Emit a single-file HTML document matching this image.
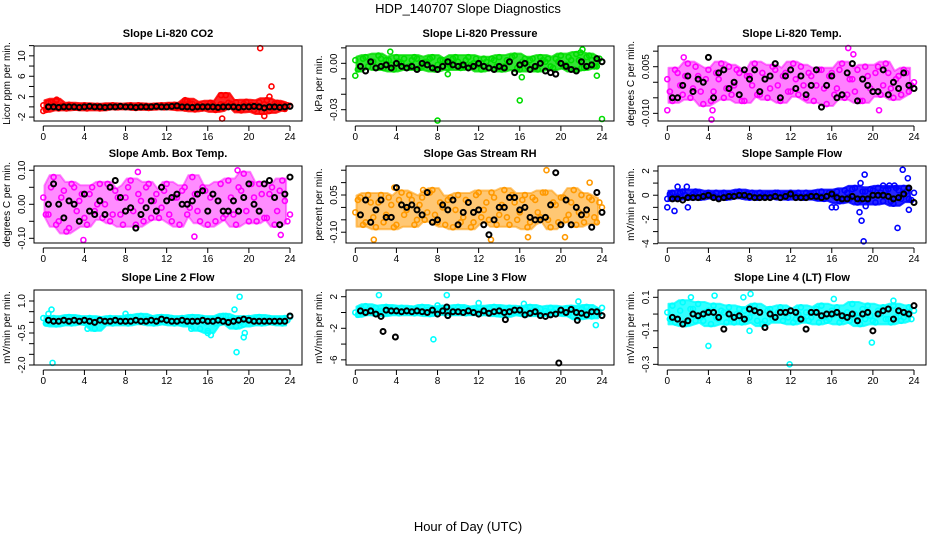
<!DOCTYPE html>
<html><head><meta charset="utf-8"><style>
body{margin:0;background:#fff;}
svg text{font-family:"Liberation Sans",sans-serif;fill:#000;}
</style></head><body>
<svg id="chart" width="936" height="540" viewBox="0 0 936 540" xmlns="http://www.w3.org/2000/svg">
<text x="468" y="13" font-size="13" text-anchor="middle">HDP_140707  Slope Diagnostics</text>
<text x="468" y="531" font-size="13" text-anchor="middle">Hour of Day (UTC)</text>
</svg>
<script>
const xTicks=[0,4,8,12,16,20,24];
const p1ColA=[0.3,0.8,0.5,-0.3,0.2,0.4,0,-0.2,0.3,0.1,0,-0.3,0.2,0.1,-0.1,0.2,0,0.3,-0.2,0.1,0.2,0,-0.1,0.3,0.1,0.2,-0.2,0.4,1.2,0.6,0.3,-0.3,0.2,0.5,-0.4,0.4,0.8,0.3,-0.5,0.6,0.2,-0.6,0.9,0.5,-0.8,0.6,0.3,-0.4,0.2];
const p1ColB=[-0.6,0.9,1.2,0.2,-0.3,0.3,-0.1,0.2,-0.3,0.1,0.2,-0.2,0.1,0.3,-0.1,0,0.2,-0.1,0.3,0,-0.2,0.2,0.1,-0.1,0.3,0.4,0.1,-0.3,0.7,-0.5,0.4,0.2,0.8,-0.6,0.5,2.3,0.6,0.9,-0.7,1.0,0.4,0.3,-1.0,1.3,-0.2,0.8,0.5,0.3];
const p1Black=[0,0,-0.1,0,0,0,-0.1,0,0.1,0,0,-0.1,0,0,0.1,0,0,-0.1,0,0,0,0.1,0,0,0.1,0.2,0,0,-0.1,0,0,0,0,-0.1,0,0,0,-0.1,0,0,0.1,0,-0.2,0,0,-0.1,0,0.1];
const p1OutX=[21.1,22.2,17.3,17.4,22.0,21.5,13.8,1.3,0.0];
const p1OutY=[11.5,4,2.3,-2.3,2,-1.8,1.3,1.4,-0.8];
const p1Ticks=[-2,0,2,4,6,8,10,12];const p1Labels=["-2","2","6","10"];

const p2ColA=[0.002,-0.002,0.004,0.001,-0.003,0.003,0.002,-0.001,0.004,0,-0.003,0.002,0.003,-0.002,0.001,0.004,-0.001,0.002,-0.003,0.003,0.001,-0.002,0.004,0,-0.001,0.003,-0.003,0.002,0.004,-0.002,0.001,0.005,-0.004,0.003,0.002,-0.003,0.004,0.001,-0.002,0.003,0.005,-0.001,0.002,0.006,-0.003,0.004,0.002,-0.002,0.001];
const p2ColB=[-0.004,0.003,-0.002,0.001,0.005,-0.003,0.002,-0.004,0.001,0.003,-0.002,0.004,-0.003,0.001,0.003,-0.004,0.002,0.001,-0.002,0.004,-0.003,0.002,-0.001,0.003,-0.004,0.001,0.003,-0.002,-0.004,0.002,0.004,-0.003,0.001,-0.002,0.003,-0.004,0.002,0.003,-0.003,0.001,-0.002,0.004,-0.004,0.002,-0.003,0.005,-0.002,0.003];
const p2Black=[-0.002,-0.005,0.001,-0.003,-0.002,-0.001,-0.003,0.000,-0.002,-0.003,-0.002,-0.004,0.000,-0.001,-0.003,-0.004,-0.002,0.001,-0.001,-0.002,-0.001,-0.003,-0.002,0.000,-0.002,-0.003,-0.004,-0.002,-0.003,0.001,-0.006,-0.001,0.000,-0.004,-0.002,0.000,-0.005,-0.006,-0.007,0.000,-0.002,-0.004,-0.005,0.001,-0.002,-0.001,0.003,0.001];
const p2OutX=[0,8,16,24,3.4,22.1,23.5,16.2,9,21.9];
const p2OutY=[-0.008,-0.037,-0.024,-0.036,0.0075,0.009,-0.008,-0.009,-0.007,0.007];
const p2Ticks=[0.01,0,-0.01,-0.02,-0.03];const p2Labels=["0.00","-0.03"];

const p3ColA=[0.001,-0.006,0.003,-0.004,0.006,-0.002,0.002,-0.007,0.004,-0.003,0.001,-0.005,0.005,-0.001,0.003,-0.006,0.002,0.006,-0.004,0.001,-0.002,0.004,-0.006,0.003,-0.003,0.001,0.005,-0.005,0.002,-0.001,0.004,-0.007,0.003,-0.002,0.006,-0.004,0.001,0.004,-0.006,0.002,-0.003,0.005,-0.001,0.003,-0.005,0.002,0.004,-0.003,0.000];
const p3ColB=[-0.003,0.004,-0.001,0.002,-0.005,0.005,-0.003,0.001,-0.006,0.003,0.006,-0.002,-0.004,0.004,-0.006,0.002,-0.001,-0.004,0.003,-0.005,0.005,-0.001,0.002,-0.003,0.006,-0.004,-0.001,0.003,-0.006,0.004,-0.002,0.002,-0.004,0.004,-0.005,0.001,-0.003,-0.006,0.005,-0.002,0.003,-0.004,0.006,-0.002,0.001,-0.004,0.003,-0.001];
const p3Black=[-0.005,-0.005,-0.001,0.002,-0.003,0.001,0.000,0.008,-0.005,0.003,0.004,-0.002,0.000,-0.004,0.004,0.001,0.004,-0.003,0.001,0.002,0.006,-0.005,0.002,0.004,-0.002,0.002,-0.004,-0.001,0.004,-0.008,-0.001,0.002,-0.005,-0.004,0.003,0.006,-0.006,0.001,-0.001,-0.003,-0.003,0.004,-0.004,0.000,-0.002,0.003,-0.001,-0.002];
const p3OutX=[4.3,17.6,0,4.4,20.6,1.6,18.1];
const p3OutY=[-0.012,0.011,-0.009,-0.009,-0.009,0.008,0.009];
const p3Ticks=[0.01,0.005,0,-0.005,-0.01];const p3Labels=["0.005","-0.010"];

const p4ColA=[0.02,-0.03,0.08,-0.05,0.04,-0.07,0.05,0.01,-0.04,0.03,-0.02,0.06,0.00,-0.05,0.04,-0.03,0.02,0.07,-0.06,0.01,0.05,-0.04,0.03,-0.01,0.06,-0.05,0.02,0.04,-0.03,0.08,-0.02,0.05,-0.06,0.03,0.01,-0.04,0.07,-0.03,0.05,0.09,-0.05,0.02,0.06,-0.04,0.03,-0.06,0.04,0.01,-0.03];
const p4ColB=[-0.03,0.05,-0.06,0.02,-0.08,0.06,-0.02,0.03,-0.06,0.05,0.00,-0.04,0.06,-0.03,0.02,-0.06,0.05,-0.02,0.03,-0.05,0.06,0.01,-0.04,0.04,-0.03,0.02,-0.06,0.05,-0.01,0.03,-0.05,0.04,0.02,-0.05,0.06,-0.03,0.02,-0.06,0.04,-0.02,0.06,-0.05,0.03,-0.04,0.05,-0.02,0.07,-0.05];
const p4Black=[0.00,0.06,0.00,-0.04,0.01,0.00,-0.05,0.03,-0.02,-0.03,0.01,-0.03,0.05,0.07,0.02,-0.02,-0.01,-0.07,-0.03,-0.01,0.01,-0.02,0.05,0.01,0.02,0.03,0.00,0.00,0.01,0.03,0.04,-0.02,0.03,0.01,-0.02,-0.02,0.01,-0.02,0.02,0.06,0.00,-0.02,0.06,0.07,0.02,-0.06,0.03,0.08];
const p4OutX=[3.9,9.2,18.9,14.7,23.1];
const p4OutY=[-0.105,0.095,0.1,-0.095,-0.09];
const p4Ticks=[-0.1,-0.05,0,0.05,0.1];const p4Labels=["-0.10","0.00","0.10"];

const p5ColA=[-0.02,0.04,-0.06,0.02,-0.08,0.05,-0.03,0.01,-0.07,0.06,-0.01,0.03,-0.05,0.04,-0.02,0.07,-0.06,0.00,0.03,-0.08,0.05,-0.04,0.02,-0.06,0.06,-0.01,-0.05,0.04,-0.03,0.07,-0.07,0.02,-0.02,0.05,-0.06,0.03,-0.04,0.06,-0.08,0.01,0.04,-0.05,0.02,-0.07,0.05,-0.03,0.03,-0.06,0.00];
const p5ColB=[0.03,-0.07,0.05,-0.04,0.02,-0.06,0.04,-0.08,0.03,-0.03,0.05,-0.07,0.01,-0.05,0.06,-0.03,0.02,-0.07,0.04,-0.01,-0.06,0.03,-0.08,0.05,-0.04,0.02,0.06,-0.07,0.01,-0.04,0.05,-0.05,0.03,-0.08,0.04,-0.02,0.06,-0.05,0.02,-0.06,0.04,-0.03,0.07,-0.02,-0.06,0.04,-0.04,0.02];
const p5Black=[-0.03,0.03,-0.06,-0.01,0.03,-0.04,-0.04,0.08,0.01,0.00,0.01,-0.01,-0.03,0.06,-0.06,-0.05,0.01,-0.01,0.03,-0.07,-0.02,0.02,-0.02,-0.01,-0.07,-0.11,-0.05,0.00,0.00,0.04,0.04,-0.01,0.00,-0.04,-0.05,-0.05,-0.04,0.01,0.14,-0.07,0.03,-0.07,0.00,-0.03,-0.01,-0.08,0.06,-0.02];
const p5OutX=[18.6,13.2,1.8,16.8,22.8,20.4,3.8,6.6];
const p5OutY=[0.15,-0.13,-0.13,-0.12,0.10,-0.12,0.08,0.07];
const p5Ticks=[-0.1,-0.05,0,0.05,0.1,0.15];const p5Labels=["-0.10","0.05"];

const p6ColA=[-0.3,0.2,-0.1,0.3,-0.2,0.1,0.2,-0.1,0.2,0,-0.2,0.2,0.1,-0.1,0.3,0,-0.2,0.1,0.2,-0.1,0.1,0.2,-0.2,0.1,0.2,0,-0.1,0.2,0.1,-0.2,0.3,-0.1,0.1,0.3,-0.4,0.2,0.5,-0.6,0.3,-0.4,0.4,0.6,-0.5,0.5,-0.7,0.4,0.6,-0.3,0.2];
const p6ColB=[0.1,-0.2,0.2,0,-0.1,0.3,-0.2,0.1,-0.1,0.2,0.1,-0.2,0,0.2,-0.1,0.1,0.2,-0.2,0,0.1,-0.1,0.2,0,-0.2,0.1,0.2,-0.2,0,0.2,-0.1,-0.3,0.2,-0.1,-0.5,0.4,-0.3,0.6,-0.4,0.3,0.5,-0.6,0.2,0.4,-0.5,0.6,-0.3,0.3,-0.4];
const p6Black=[-0.3,-0.3,-0.4,-0.2,-0.2,-0.2,-0.1,0.0,-0.2,-0.3,-0.2,-0.1,-0.1,0.0,0.0,-0.1,-0.2,-0.2,-0.2,-0.2,-0.1,-0.2,-0.1,0.1,-0.2,-0.2,-0.2,-0.1,-0.1,-0.2,-0.1,0.1,-0.2,-0.3,-0.3,-0.1,-0.3,-0.3,-0.3,0.0,0.0,0.0,-0.1,-0.3,-0.2,0.1,0.6,-0.6];
const p6OutX=[0,0.7,1,1.9,2,18.8,19.2,18.9,18.7,19.1,22.4,22.9,23.4,23.5,21,21.6,16,16.4,19.3,22.1];
const p6OutY=[-1,-1.3,0.7,0.7,-1,1,1.7,-2.1,-1.4,-3.8,-2.7,2.1,1.4,-1.2,0.8,0.8,-1,-1,-0.9,0.8];
const p6Ticks=[-4,-3,-2,-1,0,1,2];const p6Labels=["-4","-2","0","2"];

const p7ColA=[0.2,0.1,0.2,0.05,0.15,0.25,0.1,0.2,0.0,0.2,-0.3,0.15,0.1,0.2,0.05,0.15,0.2,0.25,0.1,0.3,0.15,0.2,0.1,0.25,0.15,0.2,0.1,0.2,0.15,0.25,0.1,0.2,-0.4,0.15,0.2,0.3,0.1,0.2,0.15,-0.1,0.2,0.15,0.25,0.1,0.2,0.15,0.1,0.2,0.25];
const p7ColB=[-0.05,0.0,-0.1,0.1,0.0,-0.05,0.1,0.0,0.05,-0.05,0.1,0.0,0.05,-0.05,0.1,0.0,-0.05,0.1,0.05,0.0,0.1,-0.05,0.05,0.0,0.1,-0.05,0.05,0.0,-0.1,0.05,-0.3,0.0,0.1,-0.05,0.0,0.3,0.1,-0.2,0.0,0.1,0.05,0.0,-0.05,0.1,0.0,0.05,-0.05,0.1];
const p7Black=[0.1,0.05,0.05,0.1,0.05,0.1,0.05,0.1,0.05,0.0,0.1,0.05,0.05,0.1,0.05,0.05,0.05,0.1,0.05,0.05,0.1,0.05,0.15,0.1,0.05,0.05,0.1,0.05,0.05,0.05,0.1,0.05,0.05,0.1,0.05,0.0,0.05,0.1,0.15,0.1,0.05,0.05,0.05,0.05,0.05,0.05,0.05,0.3];
const p7OutX=[0.8,0.5,0.9,8,19.1,18.6,18.8,19.5,19.6,16,16.3,4.3,14.4,24];
const p7OutY=[0.6,0.4,-1.9,0.4,1.2,0.6,-1.4,-0.7,-0.5,-0.5,-0.6,-0.3,-0.3,0.3];
const p7Ticks=[1,0.5,0,-0.5,-1,-1.5,-2];const p7Labels=["1.0","-0.5","-2.0"];

const p8ColA=[0,0.5,0.8,0.3,0.6,0.2,0.7,0.4,0.3,0.6,0.2,0.5,0.4,0.7,0.3,0.5,0.2,0.6,0.4,0.3,0.7,0.4,0.5,0.2,0.6,0.3,0.5,0.7,0.4,0.2,0.6,0.3,0.5,0.4,0.7,0.3,0.5,0.2,0.6,0.4,0.3,0.5,0.6,0.2,0.4,0.7,-0.5,0.3,0.6];
const p8ColB=[-0.3,0.0,0.2,-0.1,0.1,-0.2,0.0,0.1,-0.1,0.2,0.0,-0.1,0.1,0.0,-0.2,0.1,0.0,0.2,-0.1,0.0,0.1,-0.1,0.0,0.2,-0.1,0.1,0.0,-0.2,0.1,-0.3,0.0,0.1,-0.1,-0.2,0.0,0.1,-0.2,0.0,0.1,-0.1,0.0,-0.2,0.3,-0.6,0.0,-0.4,0.1,-0.1];
const p8Black=[0.2,0.0,0.2,-0.2,-0.5,0.3,0.2,0.2,0.1,0.2,0.1,0.2,0.1,0.0,0.3,-0.2,0.2,-0.4,0.1,0.1,0.0,0.2,0.0,-0.2,0.2,-0.1,0.1,0.2,0.0,0.1,0.3,0.3,-0.3,-0.1,0.1,-0.4,-0.5,-0.3,-0.2,0.3,0.0,0.4,0.0,-0.1,-0.3,0.1,0.1,-0.4];
const p8OutX=[2.3,8.9,7.6,12,21.7,23.4,16.4,8];
const p8OutY=[2.2,2.2,-3.4,1.2,1.4,-1.6,1.1,0.9];
const p8BlkOutX=[2.7,3.9,19.8,14.6,21.6,8.9];
const p8BlkOutY=[-2.4,-3.1,-6.4,-0.9,-1,0.7];
const p8Ticks=[2,0,-2,-4,-6];const p8Labels=["2","-2","-6"];

const p9ColA=[0.01,0.05,-0.03,0.07,-0.05,0.03,0.06,-0.04,0.02,0.05,-0.03,0.01,0.04,-0.05,0.03,0.02,-0.02,0.05,0.01,-0.04,0.03,-0.02,0.04,0.00,0.02,-0.03,0.04,0.01,-0.02,0.03,0.05,-0.04,0.02,0.04,-0.03,0.01,0.06,-0.02,0.03,0.05,-0.04,0.02,0.04,-0.03,0.05,0.01,-0.02,0.04,0.02];
const p9ColB=[-0.03,-0.05,0.02,-0.06,0.03,-0.04,-0.02,0.01,-0.06,-0.02,0.02,-0.05,-0.03,0.00,-0.05,-0.03,0.01,-0.04,-0.06,0.02,-0.03,0.01,-0.04,-0.02,-0.05,0.00,-0.03,-0.04,0.01,-0.05,-0.02,-0.03,0.00,-0.05,-0.02,-0.04,0.00,-0.06,-0.03,-0.01,-0.05,0.00,-0.03,-0.05,-0.02,-0.04,0.00,-0.03];
const p9Black=[-0.02,-0.03,-0.06,-0.04,0.00,-0.01,0.00,0.01,0.01,-0.02,-0.09,0.00,-0.02,-0.01,-0.03,0.03,0.02,0.01,-0.08,0.00,-0.02,0.01,0.01,0.02,0.01,-0.03,-0.09,0.01,0.01,-0.01,0.00,0.00,0.01,-0.01,-0.02,0.00,-0.04,0.00,0.01,-0.1,0.00,0.02,0.03,-0.03,0.02,0.01,0.00,0.05];
const p9OutX=[4,4.6,8.1,8,11.9,19.9,7.4,2.3,16.2,22];
const p9OutY=[-0.19,0.11,0.12,-0.1,-0.3,-0.17,0.1,0.1,0.09,0.08];
const p9Ticks=[0.1,0,-0.1,-0.2,-0.3];const p9Labels=["0.1","-0.1","-0.3"];

const NS="http://www.w3.org/2000/svg";
const svg=document.getElementById('chart');
function mk(tag,attrs,parent){const e=document.createElementNS(NS,tag);for(const k in attrs)e.setAttribute(k,attrs[k]);(parent||svg).appendChild(e);return e;}

const panels=[
 {t:"Slope Li-820 CO2",yl:"Licor ppm per min.",col:"#ff0000",op:0.85,a:p1ColA,b:p1ColB,k:p1Black,ox:p1OutX,oy:p1OutY,ymin:-2.77,ymax:11.93,ticks:p1Ticks,labels:p1Labels},
 {t:"Slope Li-820 Pressure",yl:"kPa per min.",col:"#00dd00",op:0.8,a:p2ColA,b:p2ColB,k:p2Black,ox:p2OutX,oy:p2OutY,ymin:-0.0373,ymax:0.0112,ticks:p2Ticks,labels:p2Labels},
 {t:"Slope Li-820 Temp.",yl:"degrees C per min.",col:"#ff00ff",op:0.5,a:p3ColA,b:p3ColB,k:p3Black,ox:p3OutX,oy:p3OutY,ymin:-0.01246,ymax:0.01166,ticks:p3Ticks,labels:p3Labels},
 {t:"Slope Amb. Box Temp.",yl:"degrees C per min.",col:"#ff00ff",op:0.45,a:p4ColA,b:p4ColB,k:p4Black,ox:p4OutX,oy:p4OutY,ymin:-0.1138,ymax:0.1126,ticks:p4Ticks,labels:p4Labels},
 {t:"Slope Gas Stream RH",yl:"percent per min.",col:"#ff9900",op:0.55,a:p5ColA,b:p5ColB,k:p5Black,ox:p5OutX,oy:p5OutY,ymin:-0.1435,ymax:0.167,ticks:p5Ticks,labels:p5Labels},
 {t:"Slope Sample Flow",yl:"mV/min per min.",col:"#0000ff",op:0.85,a:p6ColA,b:p6ColB,k:p6Black,ox:p6OutX,oy:p6OutY,ymin:-3.94,ymax:2.41,ticks:p6Ticks,labels:p6Labels},
 {t:"Slope Line 2 Flow",yl:"mV/min per min.",col:"#00ffff",op:0.85,a:p7ColA,b:p7ColB,k:p7Black,ox:p7OutX,oy:p7OutY,ymin:-2.0,ymax:1.516,ticks:p7Ticks,labels:p7Labels},
 {t:"Slope Line 3 Flow",yl:"mV/min per min.",col:"#00ffff",op:0.85,a:p8ColA,b:p8ColB,k:p8Black,ox:p8OutX,oy:p8OutY,kx:p8BlkOutX,ky:p8BlkOutY,ymin:-6.65,ymax:2.85,ticks:p8Ticks,labels:p8Labels},
 {t:"Slope Line 4 (LT) Flow",yl:"mV/min per min.",col:"#00ffff",op:0.8,a:p9ColA,b:p9ColB,k:p9Black,ox:p9OutX,oy:p9OutY,ymin:-0.304,ymax:0.1436,ticks:p9Ticks,labels:p9Labels}
];
const rowTop=[46,166,290],rowBot=[121,243,365];
panels.forEach((p,i)=>{
  const r=Math.floor(i/3),c=i%3,ox=c*312;
  const L=34+ox,R=302+ox,T=rowTop[r],B=rowBot[r];
  const x0=43.3+ox,x24=290+ox;
  const sx=h=>x0+(x24-x0)*h/24;
  const sy=v=>B-(v-p.ymin)/(p.ymax-p.ymin)*(B-T);
  const g=mk('g',{});
  
  
  const tt=mk('text',{x:(L+R)/2,y:T-9,'font-size':11,'font-weight':'bold','text-anchor':'middle'},g);tt.textContent=p.t;
  
  
  const yl=mk('text',{x:0,y:0,'font-size':10,'text-anchor':'middle',transform:`translate(${ox+10},${(T+B)/2}) rotate(-90)`},g);yl.textContent=p.yl;
  
  
  // dense cloud envelope derived from the two coloured series (sliding window)
  const n=Math.min(p.a.length,p.b.length);
  const up=[],lo=[];
  for(let j=0;j<n;j++){
    const w=[];
    for(let d=-1;d<=1;d++){const q=j+d;if(q>=0&&q<n){w.push(p.a[q],p.b[q]);}}
    const hi=Math.max(...w),lw=Math.min(...w);
    up.push([sx(j*0.5+0.12),sy(hi)-2]);
    lo.push([sx(j*0.5+0.12),sy(lw)+2]);
  }
  const poly=up.concat(lo.reverse()).map(q=>q[0].toFixed(1)+','+q[1].toFixed(1)).join(' ');
  const cl=mk('polygon',{points:poly,fill:p.col,'fill-opacity':p.op,stroke:p.col,'stroke-width':2,'stroke-opacity':p.op,'stroke-linejoin':'round'},g);
  
  
  // points
  const pts=mk('g',{fill:'none'},g);
  
  
  const dot=(h,v,col,sw)=>{const y=sy(v);if(y<T-3||y>B+3)return;const e=mk('circle',{cx:sx(h),cy:y,r:2.5,stroke:col,'stroke-width':sw},pts);
    
    };
  p.a.forEach((v,j)=>dot(j*0.5,v,p.col,1.6));
  p.b.forEach((v,j)=>dot(j*0.5+0.25,v,p.col,1.6));
  p.ox.forEach((h,j)=>dot(h,p.oy[j],p.col,1.6));
  p.k.forEach((v,j)=>dot(j*0.5+0.5,v,'#000',2));
  if(p.kx)p.kx.forEach((h,j)=>dot(h,p.ky[j],'#000',2));
  // box
  const bx=mk('rect',{x:L,y:T,width:R-L,height:B-T,fill:'none',stroke:'#000','stroke-width':1},g);
  
  
  // x axis
  const ax=mk('g',{stroke:'#000','stroke-width':1},g);
  
  
  mk('line',{x1:x0,x2:x24,y1:B+5,y2:B+5},ax);
  xTicks.forEach(h=>{mk('line',{x1:sx(h),x2:sx(h),y1:B+5,y2:B+10},ax);
    const t=mk('text',{x:sx(h),y:B+19,'font-size':10,'text-anchor':'middle',stroke:'none'},ax);t.textContent=h;
    
    });
  // y axis
  const ay=mk('g',{stroke:'#000','stroke-width':1},g);
  
  
  p.ticks.forEach(v=>{const y=sy(v);mk('line',{x1:L-5,x2:L,y1:y,y2:y},ay);});
  p.labels.forEach(s=>{const y=sy(parseFloat(s));
    const t=mk('text',{x:0,y:0,'font-size':10,'text-anchor':'middle',stroke:'none',transform:`translate(${L-9},${y}) rotate(-90)`},ay);t.textContent=s;
    
    });
});
</script>
</body></html>
